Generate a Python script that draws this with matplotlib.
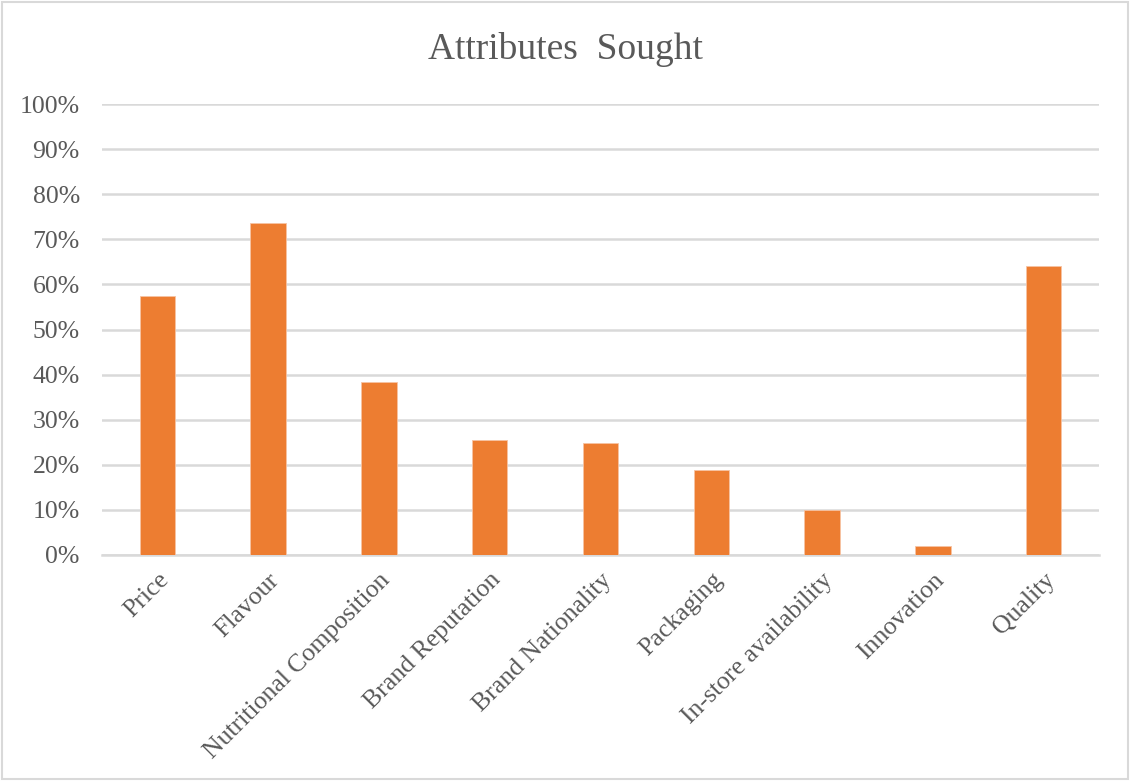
import matplotlib.pyplot as plt
from matplotlib.patches import Rectangle
from matplotlib.ticker import PercentFormatter

categories = [
    "Price",
    "Flavour",
    "Nutritional Composition",
    "Brand Reputation",
    "Brand Nationality",
    "Packaging",
    "In-store availability",
    "Innovation",
    "Quality",
]
shares = [0.574, 0.736, 0.384, 0.255, 0.249, 0.188, 0.100, 0.020, 0.641]
y_ticks = [i / 10 for i in range(11)]

TEXT = "#595959"
GRID = "#d9d9d9"
BAR = "#ed7d31"

plt.rcParams["font.family"] = ["Liberation Serif", "DejaVu Serif"]

fig = plt.figure(figsize=(11.3, 7.81), dpi=100)
ax = fig.add_axes([0.0903, 0.2894, 0.8823, 0.5774])

x = range(len(categories))
ax.bar(x, shares, width=0.32, color=BAR, edgecolor="#f7c3a3", linewidth=0.6, zorder=3)

ax.set_xlim(-0.5, len(categories) - 0.5)
ax.set_ylim(0, 1.0)
ax.set_yticks(y_ticks)
ax.yaxis.set_major_formatter(PercentFormatter(1.0, decimals=0))
ax.yaxis.grid(True, color=GRID, linewidth=1.8, zorder=0)
ax.set_axisbelow(True)

ax.set_xticks(list(x))
ax.set_xticklabels(categories, rotation=45, ha="right", rotation_mode="anchor")
ax.tick_params(axis="both", length=0, labelsize=18.5, labelcolor=TEXT)
ax.tick_params(axis="x", pad=10)
ax.tick_params(axis="y", pad=16)

for side in ["top", "right", "left"]:
    ax.spines[side].set_visible(False)
ax.spines["bottom"].set_color(GRID)
ax.spines["bottom"].set_linewidth(1.8)

fig.text(0.5, 0.937, "Attributes  Sought", ha="center", va="center", fontsize=27, color=TEXT)

fig.patches.append(Rectangle((0.002, 0.002), 0.996, 0.996, transform=fig.transFigure,
                             fill=False, edgecolor=GRID, linewidth=1.5))

fig.savefig("out.png", dpi=100)
